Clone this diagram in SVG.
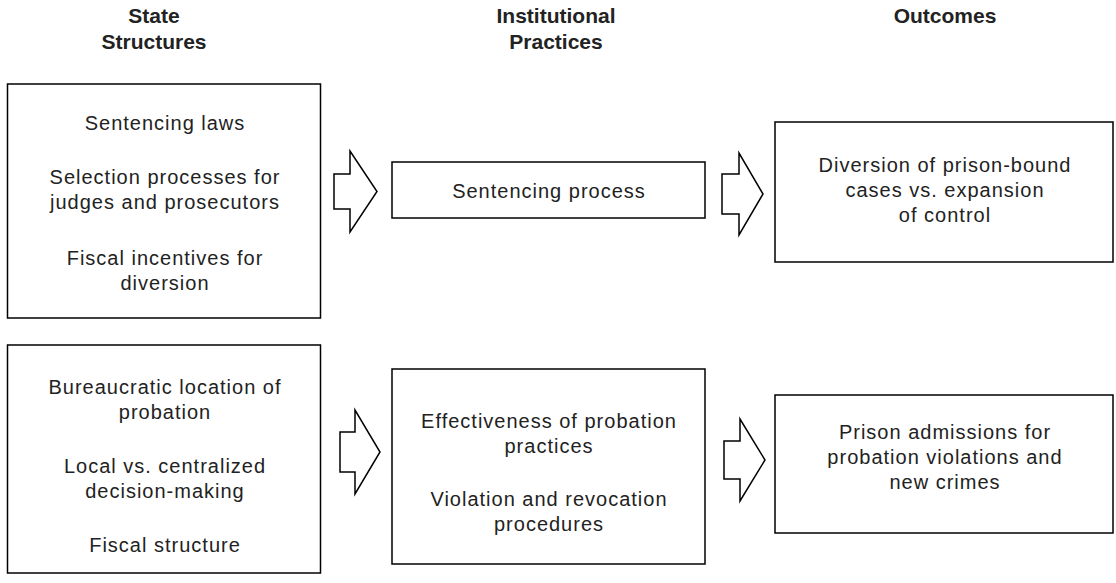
<svg xmlns="http://www.w3.org/2000/svg" width="1116" height="583" viewBox="0 0 1116 583">
<style>
.box{fill:#fff;stroke:#000;stroke-width:1.5}
.arr{fill:#fff;stroke:#000;stroke-width:1.5;stroke-linejoin:miter}
.t{font-family:"Liberation Sans",Arial,sans-serif;font-size:20px;letter-spacing:1px;fill:#222;text-anchor:middle}
.h{font-family:"Liberation Sans",Arial,sans-serif;font-size:21px;font-weight:bold;fill:#222;text-anchor:middle}
</style>
<rect width="1116" height="583" fill="#fff"/>
<g id="headers">
<text class="h" x="154" y="23">State</text>
<text class="h" x="154" y="49">Structures</text>
<text class="h" x="556" y="23">Institutional</text>
<text class="h" x="556" y="49">Practices</text>
<text class="h" x="945" y="23">Outcomes</text>
</g>
<g id="connectors">
<polygon class="arr" points="334,174 350,174 350,151 377,191.5 350,232 350,209 334,209"/>
<polygon class="arr" points="722,174 739,174 739,153 763,194 739,235 739,214 722,214"/>
<polygon class="arr" points="340,432 355,432 355,410 380,452 355,494 355,472 340,472"/>
<polygon class="arr" points="724,441 740,441 740,419 765,460 740,501 740,479 724,479"/>
</g>
<g id="state1">
<rect class="box" x="7.5" y="84" width="313" height="234"/>
<text class="t" x="165" y="130">Sentencing laws</text>
<text class="t" x="165" y="184">Selection processes for</text>
<text class="t" x="165" y="209">judges and prosecutors</text>
<text class="t" x="165" y="265">Fiscal incentives for</text>
<text class="t" x="165" y="290">diversion</text>
</g>
<g id="practice1">
<rect class="box" x="392" y="162" width="313" height="56"/>
<text class="t" x="549" y="198">Sentencing process</text>
</g>
<g id="outcome1">
<rect class="box" x="775" y="122" width="338" height="140"/>
<text class="t" x="945" y="172">Diversion of prison-bound</text>
<text class="t" x="945" y="197">cases vs. expansion</text>
<text class="t" x="945" y="222">of control</text>
</g>
<g id="state2">
<rect class="box" x="7.5" y="345" width="313" height="228"/>
<text class="t" x="165" y="394">Bureaucratic location of</text>
<text class="t" x="165" y="419">probation</text>
<text class="t" x="165" y="473">Local vs. centralized</text>
<text class="t" x="165" y="498">decision-making</text>
<text class="t" x="165" y="552">Fiscal structure</text>
</g>
<g id="practice2">
<rect class="box" x="392" y="369" width="313" height="195"/>
<text class="t" x="549" y="428">Effectiveness of probation</text>
<text class="t" x="549" y="453">practices</text>
<text class="t" x="549" y="506">Violation and revocation</text>
<text class="t" x="549" y="531">procedures</text>
</g>
<g id="outcome2">
<rect class="box" x="775" y="395" width="338" height="138"/>
<text class="t" x="945" y="439">Prison admissions for</text>
<text class="t" x="945" y="464">probation violations and</text>
<text class="t" x="945" y="489">new crimes</text>
</g>
</svg>
